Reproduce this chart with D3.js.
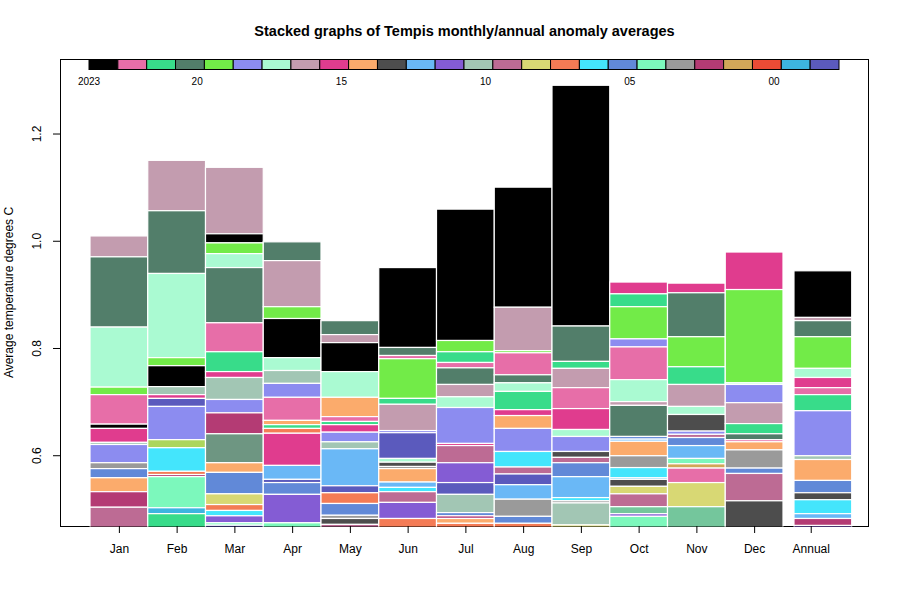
<!DOCTYPE html>
<html><head><meta charset="utf-8">
<script src="https://cdn.jsdelivr.net/npm/d3@7"></script>
<style>body{margin:0;background:#fff} svg{display:block;font-family:"Liberation Sans",Arial,sans-serif}</style>
</head><body><svg id="c" width="900" height="600"></svg>
<script>
// ---- data ----
const years = [2023,2022,2021,2020,2019,2018,2017,2016,2015,2014,2013,2012,2011,2010,2009,2008,2007,2006,2005,2004,2003,2002,2001,2000,1999,1998,1997,1996,1995];
const yearColors = ["#000000","#e76ea8","#38dc8a","#527e6a","#72eb48","#8c8cf0","#aafad2","#c39caf","#e03c8e","#fbab6c","#4d4d4d","#6ab8f6","#845cd4","#a2c6b4","#bd6b94","#d8d874","#f47b55","#44e5fc","#6189d8","#7cf8bc","#9a9a9a","#b43b74","#d1a759","#ea4b35","#3db5e0","#5b5abd","#acd65c","#6e9682","#74c69c"];
const legendCount = 26;
const legendLabels = ["2023","20","15","10","05","00"];
const legendLabelCell = [0, 3.75, 8.75, 13.75, 18.75, 23.75];
const columns = ["Jan","Feb","Mar","Apr","May","Jun","Jul","Aug","Sep","Oct","Nov","Dec","Annual"];
const yTicks = [0.6, 0.8, 1.0, 1.2];

const jan = [[2016,1.009],[2020,0.970],[2017,0.839],[2019,0.727],[2022,0.713],[2023,0.658],[2015,0.650],[2010,0.624],[2018,0.620],[2003,0.586],[2005,0.575],[2014,0.558],[2002,0.532],[2009,0.503]];
const feb = [[2016,1.150],[2020,1.056],[2017,0.939],[2019,0.782],[2023,0.767],[2010,0.728],[2015,0.713],[1998,0.706],[2018,0.691],[1997,0.629],[2006,0.614],[2007,0.570],[2002,0.564],[2004,0.560],[1999,0.502],[2021,0.491]];
const mar = [[2016,1.137],[2023,1.013],[2019,0.996],[2017,0.976],[2020,0.950],[2022,0.847],[2021,0.793],[2015,0.756],[2010,0.745],[2018,0.704],[2002,0.679],[1996,0.640],[2014,0.586],[2005,0.568],[2008,0.528],[2007,0.508],[2006,0.497],[2011,0.487],[2004,0.474],[1998,0.4695]];
const apr = [[2020,0.998],[2016,0.963],[2019,0.877],[2023,0.855],[2017,0.782],[2010,0.758],[2018,0.734],[2022,0.708],[2014,0.665],[2021,0.657],[2007,0.650],[2015,0.641],[2012,0.581],[1998,0.555],[2005,0.549],[2011,0.527],[2004,0.474]];
const may = [[2020,0.851],[2016,0.825],[2023,0.810],[2017,0.756],[2014,0.708],[2022,0.672],[2021,0.663],[2015,0.657],[2018,0.643],[2010,0.625],[2012,0.612],[1998,0.543],[2007,0.530],[2005,0.510],[2003,0.488],[2013,0.482],[2009,0.471]];
const jun = [[2023,0.950],[2020,0.801],[2022,0.786],[2019,0.780],[2021,0.706],[2016,0.695],[2018,0.646],[1998,0.642],[2017,0.594],[2013,0.587],[2003,0.579],[2014,0.575],[2012,0.550],[2006,0.540],[2009,0.532],[2011,0.512],[2007,0.482]];
const jul = [[2023,1.059],[2019,0.814],[2021,0.793],[2022,0.773],[2020,0.763],[2016,0.732],[2017,0.709],[2018,0.689],[2015,0.622],[2009,0.618],[2011,0.586],[1998,0.549],[2010,0.527],[2005,0.493],[2002,0.487],[2014,0.482],[2007,0.473]];
const aug = [[2023,1.100],[2016,0.876],[2019,0.795],[2022,0.791],[2020,0.750],[2017,0.735],[2021,0.719],[2015,0.685],[2014,0.674],[2018,0.650],[2006,0.607],[2009,0.578],[1998,0.565],[2012,0.545],[2003,0.518],[2005,0.486],[2007,0.473]];
const sep = [[2023,1.290],[2020,0.841],[2021,0.775],[2016,0.762],[2022,0.726],[2015,0.687],[2017,0.648],[2018,0.635],[2013,0.607],[2009,0.596],[2005,0.586],[2012,0.560],[2006,0.521],[2003,0.515],[2010,0.511],[2008,0.470]];
const oct = [[2015,0.923],[2021,0.901],[2019,0.877],[2018,0.817],[2022,0.802],[2017,0.741],[2016,0.700],[2020,0.693],[2005,0.635],[2012,0.630],[2014,0.626],[2003,0.599],[2006,0.577],[1999,0.558],[2013,0.555],[2008,0.542],[2009,0.528],[1995,0.504],[2011,0.491],[2004,0.486]];
const nov = [[2015,0.921],[2020,0.903],[2019,0.821],[2021,0.765],[2016,0.732],[2017,0.691],[2013,0.676],[2018,0.645],[2009,0.639],[2005,0.633],[2012,0.618],[2004,0.594],[2001,0.584],[2022,0.576],[2008,0.549],[1995,0.504]];
const dec = [[2015,0.979],[2019,0.909],[2017,0.735],[2018,0.732],[2016,0.698],[2021,0.659],[2020,0.640],[2022,0.629],[2014,0.625],[2003,0.610],[2005,0.576],[2009,0.566],[2013,0.515]];
const annual = [[2023,0.944],[2016,0.857],[2020,0.851],[2019,0.821],[2017,0.762],[2015,0.745],[2022,0.726],[2021,0.713],[2018,0.683],[2010,0.599],[2014,0.592],[2005,0.553],[2013,0.530],[2006,0.517],[2012,0.491],[2002,0.482],[2011,0.469]];
const columnData = [jan,feb,mar,apr,may,jun,jul,aug,sep,oct,nov,dec,annual];

// ---- layout ----
const W = 900, H = 600;
const box = {left:60, right:869, top:59, bottom:526};
const barSlot = [0,1,2,3,4,5,6,7,8,9,10,11,12.19];
const tickSlot = [0.5,1.5,2.5,3.5,4.5,5.5,6.5,7.5,8.5,9.5,10.5,11.5,12.48];

const svg = d3.select("#c");
svg.append("rect").attr("width",W).attr("height",H).attr("fill","#fff");

const y = d3.scaleLinear().domain([0.468, 1.339]).range([box.bottom, box.top]);
const x = d3.scaleLinear().domain([0, 13]).range([90, 90 + 13*57.75]);
const colorOf = d3.scaleOrdinal().domain(years).range(yearColors);

// clip
svg.append("clipPath").attr("id","clip").append("rect")
  .attr("x",box.left).attr("y",box.top).attr("width",box.right-box.left).attr("height",box.bottom-box.top+0.5);

// box
svg.append("rect").attr("x",box.left+0.5).attr("y",box.top+0.5)
  .attr("width",box.right-box.left-1).attr("height",box.bottom-box.top)
  .attr("fill","none").attr("stroke","#000").attr("stroke-width",1);

// bars
const gBars = svg.append("g").attr("clip-path","url(#clip)");
columnData.forEach((col, ci) => {
  const sorted = col.slice().sort((a,b)=>b[1]-a[1]);
  const segs = sorted.map((d,k)=>({year:d[0], top:d[1], bottom: k+1<sorted.length ? sorted[k+1][1] : y.domain()[0]-0.05}));
  const x0 = x(barSlot[ci]), x1 = x(barSlot[ci]+1);
  gBars.selectAll(null).data(segs).enter().append("rect")
    .attr("x", x0).attr("width", x1-x0)
    .attr("y", d=>y(d.top)).attr("height", d=>y(d.bottom)-y(d.top))
    .attr("fill", d=>colorOf(d.year))
    .attr("stroke","#fff").attr("stroke-width",1.2);
});

// y axis
const yAxis = svg.append("g").attr("transform",`translate(${box.left},0)`)
  .call(d3.axisLeft(y).tickValues(yTicks).tickSize(7).tickFormat(d3.format(".1f")));
yAxis.select(".domain").remove();
yAxis.selectAll("line").attr("stroke","#000");
yAxis.selectAll("text").attr("x",null).attr("dy","0.35em").attr("y",-23)
  .attr("transform","rotate(-90)").attr("text-anchor","middle")
  .attr("font-size",12).attr("fill","#000").attr("font-family","Liberation Sans, Arial, sans-serif");

// x axis
const xAxis = svg.append("g").attr("transform",`translate(0,${box.bottom})`)
  .call(d3.axisBottom(x).tickValues(tickSlot).tickSize(7).tickPadding(11)
    .tickFormat((d,i)=>columns[i]));
xAxis.select(".domain").remove();
xAxis.selectAll("line").attr("stroke","#000");
xAxis.selectAll("text").attr("font-size",12).attr("fill","#000").attr("font-family","Liberation Sans, Arial, sans-serif");

// legend strip
const lx = d3.scaleLinear().domain([0, legendCount]).range([89, 839]);
const legendData = years.slice(0, legendCount);
svg.append("g").selectAll("rect").data(legendData).enter().append("rect")
  .attr("x",(d,i)=>lx(i)).attr("width",(d,i)=>lx(i+1)-lx(i))
  .attr("y",box.top+0.5).attr("height",10)
  .attr("fill",d=>colorOf(d)).attr("stroke","#000").attr("stroke-width",1);
svg.append("g").selectAll("text").data(legendLabels).enter().append("text")
  .attr("x",(d,i)=>lx(legendLabelCell[i])).attr("y",84.5)
  .attr("text-anchor","middle").attr("font-size",10).attr("fill","#000")
  .text(d=>d);

// titles
svg.append("text").attr("x",(box.left+box.right)/2).attr("y",36)
  .attr("text-anchor","middle").attr("font-size",14.5).attr("font-weight","bold")
  .text("Stacked graphs of Tempis monthly/annual anomaly averages");
svg.append("text").attr("transform",`translate(13,${(box.top+box.bottom)/2}) rotate(-90)`)
  .attr("text-anchor","middle").attr("font-size",12)
  .text("Average temperature degrees C");
</script></body></html>
